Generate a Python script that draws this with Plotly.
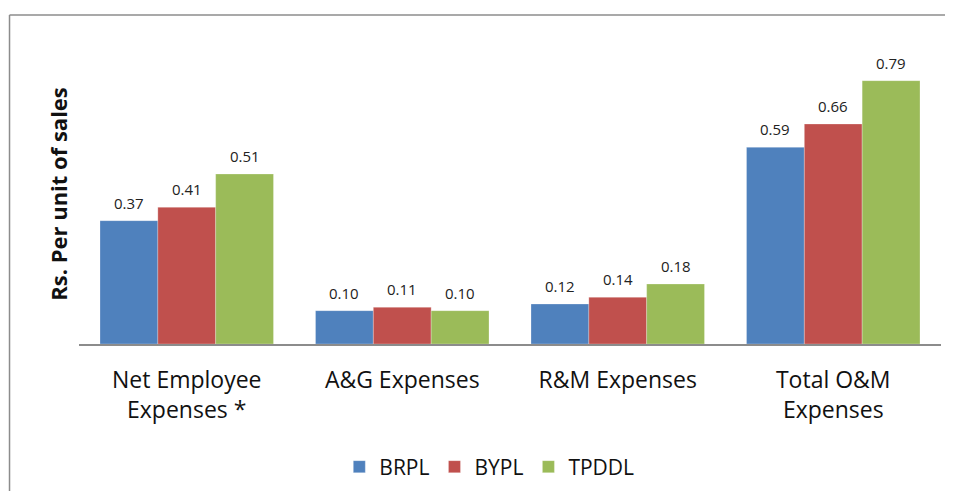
import plotly.graph_objects as go

categories = ["Net Employee<br>Expenses *", "A&G Expenses", "R&M Expenses", "Total O&M<br>Expenses"]
brpl = [0.37, 0.10, 0.12, 0.59]
bypl = [0.41, 0.11, 0.14, 0.66]
tpddl = [0.51, 0.10, 0.18, 0.79]

series = [
    ("BRPL", brpl, "#4F81BD"),
    ("BYPL", bypl, "#C0504D"),
    ("TPDDL", tpddl, "#9BBB59"),
]

# plot area in pixels: 862 wide, 4 categories, bargap 0.195
bar_px = 862 / 4 * (1 - 0.195) / 3

fig = go.Figure()
annotations = []
for i, (name, vals, color) in enumerate(series):
    fig.add_trace(
        go.Bar(
            x=categories,
            y=vals,
            name=name,
            marker=dict(color=color, line=dict(color="rgba(255,255,255,0.5)", width=0.5)),
        )
    )
    for cat, v in zip(categories, vals):
        annotations.append(
            dict(
                x=cat,
                y=v,
                text=f"{v:.2f}",
                showarrow=False,
                xshift=(i - 1) * bar_px,
                yshift=18,
                yanchor="middle",
                font=dict(size=15, color="#222"),
            )
        )

# outer chart frame: only top and left edges fall inside the picture
frame = dict(color="#8c8c8c", width=1.5)
shapes = [
    dict(type="line", xref="paper", yref="paper", x0=-0.0806, x1=1.2, y0=1.0967, y1=1.0967, line=frame),
    dict(type="line", xref="paper", yref="paper", x0=-0.0806, x1=-0.0806, y0=-0.9, y1=1.0967, line=frame),
]

# page body adds an 8px margin, so keep the figure inside the window
fig.update_layout(
    width=937,
    height=483,
    barmode="group",
    bargap=0.195,
    bargroupgap=0,
    plot_bgcolor="white",
    paper_bgcolor="white",
    font=dict(family="Open Sans, Noto Sans, sans-serif", color="#111"),
    margin=dict(l=71, r=4, t=36, b=147, autoexpand=False),
    showlegend=True,
    legend=dict(
        orientation="h",
        x=0.476,
        xanchor="center",
        y=-0.41,
        yanchor="middle",
        font=dict(size=21),
        itemwidth=30,
        traceorder="normal",
    ),
    annotations=annotations,
    shapes=shapes,
)

fig.update_xaxes(
    showline=True,
    linecolor="#8c8c8c",
    linewidth=1.5,
    ticks="",
    tickfont=dict(size=23),
    ticklabelstandoff=15,
    automargin=False,
)
fig.update_yaxes(
    range=[0, 0.9],
    showticklabels=False,
    showgrid=False,
    zeroline=False,
    ticks="",
    automargin=False,
    title=dict(text="<b>Rs. Per unit of sales</b>", font=dict(size=22), standoff=4),
)

fig.write_html("out.html")
